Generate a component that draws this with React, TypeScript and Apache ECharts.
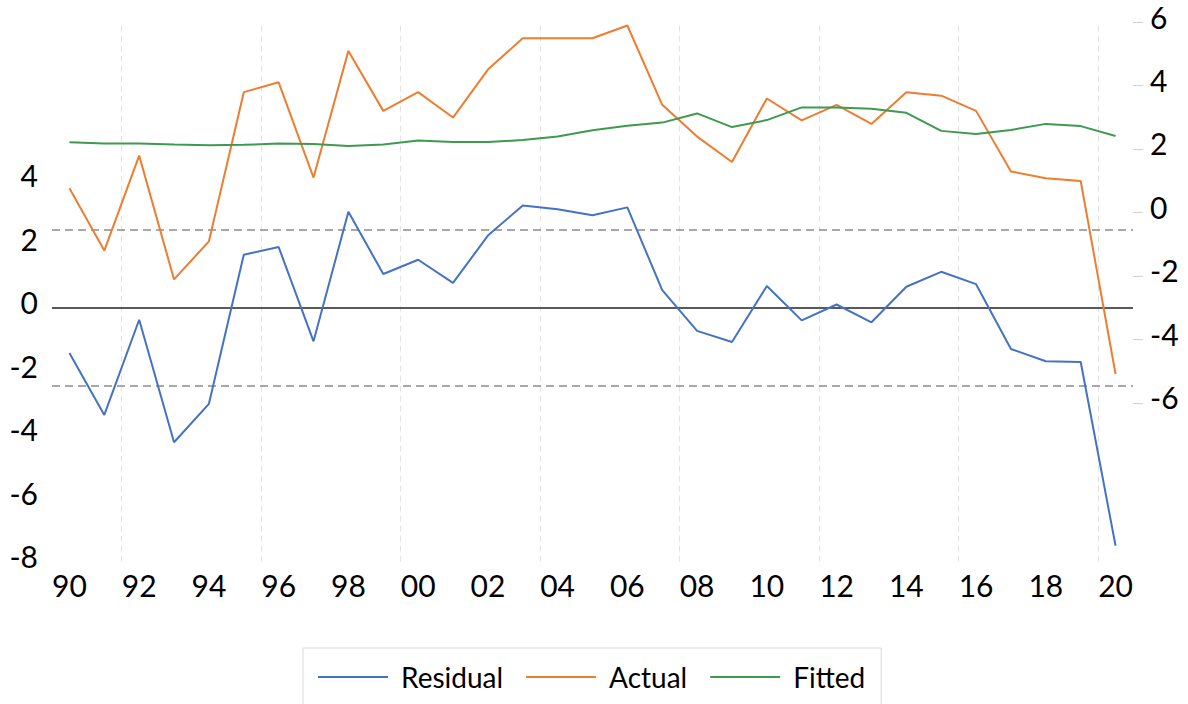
import React, { useEffect, useRef } from "react";
import * as echarts from "echarts";

const years = [
  1990, 1991, 1992, 1993, 1994, 1995, 1996, 1997, 1998, 1999, 2000, 2001, 2002, 2003, 2004, 2005,
  2006, 2007, 2008, 2009, 2010, 2011, 2012, 2013, 2014, 2015, 2016, 2017, 2018, 2019, 2020,
];
const residual = [
  -1.43, -3.38, -0.38, -4.24, -3.03, 1.67, 1.91, -1.06, 3.02, 1.06, 1.51, 0.78, 2.27, 3.22, 3.1, 2.91,
  3.16, 0.55, -0.73, -1.08, 0.68, -0.4, 0.1, -0.46, 0.66, 1.13, 0.74, -1.3, -1.69, -1.71, -7.5,
];
const actual = [
  0.76, -1.2, 1.79, -2.11, -0.91, 3.79, 4.1, 1.1, 5.09, 3.2, 3.79, 2.99, 4.5, 5.49, 5.49, 5.49, 5.89,
  3.39, 2.39, 1.59, 3.59, 2.9, 3.39, 2.79, 3.79, 3.68, 3.2, 1.29, 1.08, 0.99, -5.09,
];
const fitted = [
  2.21, 2.17, 2.17, 2.14, 2.12, 2.13, 2.17, 2.16, 2.09, 2.14, 2.27, 2.22, 2.22, 2.28, 2.39, 2.59, 2.73,
  2.83, 3.12, 2.69, 2.91, 3.31, 3.31, 3.27, 3.14, 2.57, 2.47, 2.6, 2.79, 2.72, 2.41,
];
const xLabelYears = [
  1990, 1992, 1994, 1996, 1998, 2000, 2002, 2004, 2006, 2008, 2010, 2012, 2014, 2016, 2018, 2020,
];
const gridYears = [1991.5, 1995.5, 1999.5, 2003.5, 2007.5, 2011.5, 2015.5, 2019.5];
const leftTicks = [-8, -6, -4, -2, 0, 2, 4];
const rightTicks = [-6, -4, -2, 0, 2, 4, 6];
const zeroLine = 0;
const seBand = [2.45, -2.45];

const FONT = "Lato";

export default function App() {
  const ref = useRef<HTMLDivElement>(null);
  useEffect(() => {
    if (!ref.current) return;
    const chart = echarts.init(ref.current, null, { renderer: "svg" });
    const pairs = (vals: number[]) => years.map((y, i) => [y, vals[i]]);
    const axisText = {
      fontFamily: FONT,
      fontSize: 30,
      color: "#000",
    };
    chart.setOption({
      animation: false,
      backgroundColor: "#ffffff",
      grid: { left: 52, right: 55, top: 22, height: 539.6, containLabel: false },
      legend: {
        left: 303,
        top: 648,
        padding: [15, 16, 30, 15],
        borderColor: "#d9d9d9",
        borderWidth: 1,
        itemWidth: 70,
        itemHeight: 2,
        itemGap: 23,
        icon: "rect",
        textStyle: { fontFamily: FONT, fontSize: 28, color: "#000", padding: [0, 0, 0, 8] },
        data: ["Residual", "Actual", "Fitted"],
      },
      xAxis: {
        type: "value",
        min: 1989.5,
        max: 2020.5,
        axisLine: { show: false },
        axisTick: { show: false },
        splitLine: { show: false },
        axisLabel: {
          ...axisText,
          customValues: xLabelYears,
          formatter: (v: number) => String(Math.round(v)).slice(2),
          margin: 8,
        },
      },
      yAxis: [
        {
          type: "value",
          position: "left",
          min: -8,
          max: 9,
          axisLine: { show: false },
          axisTick: { show: false },
          splitLine: { show: false },
          axisLabel: {
            ...axisText,
            customValues: leftTicks,
            margin: 14,
            verticalAlign: "bottom",
            lineHeight: 11,
          },
        },
        {
          type: "value",
          position: "right",
          min: -11,
          max: 6,
          axisLine: { show: false },
          axisTick: {
            show: true,
            customValues: rightTicks,
            length: 10,
            lineStyle: { color: "#d0d0d0", width: 1 },
          },
          splitLine: { show: false },
          axisLabel: {
            ...axisText,
            customValues: rightTicks,
            margin: 17,
            verticalAlign: "bottom",
            lineHeight: 11,
          },
        },
      ],
      series: [
        {
          name: "grid",
          type: "line",
          yAxisIndex: 0,
          data: [],
          z: 1,
          silent: true,
          markLine: {
            z: 1,
            silent: true,
            symbol: "none",
            label: { show: false },
            lineStyle: { color: "#e3e3e3", width: 1, type: [6, 4] },
            data: gridYears.map((g) => ({ xAxis: g })),
          },
        },
        {
          name: "Residual",
          type: "line",
          yAxisIndex: 0,
          data: pairs(residual),
          symbol: "none",
          color: "#4472C4",
          lineStyle: { width: 2, color: "#4472C4" },
          z: 3,
          markLine: {
            z: 2,
            silent: true,
            symbol: "none",
            label: { show: false },
            data: [
              { yAxis: zeroLine, lineStyle: { color: "#595959", width: 2, type: "solid" } },
              ...seBand.map((v) => ({
                yAxis: v,
                lineStyle: { color: "#8c8c8c", width: 1.5, type: [8, 5] },
              })),
            ],
          },
        },
        {
          name: "Actual",
          type: "line",
          yAxisIndex: 1,
          data: pairs(actual),
          symbol: "none",
          color: "#ED7D31",
          lineStyle: { width: 2, color: "#ED7D31" },
          z: 3,
        },
        {
          name: "Fitted",
          type: "line",
          yAxisIndex: 1,
          data: pairs(fitted),
          symbol: "none",
          color: "#3D9A4E",
          lineStyle: { width: 2, color: "#3D9A4E" },
          z: 3,
        },
      ],
    });
    return () => chart.dispose();
  }, []);
  return (
    <div
      ref={ref}
      style={{ position: "fixed", left: 0, top: 0, width: 1188, height: 704, background: "#fff" }}
    />
  );
}
